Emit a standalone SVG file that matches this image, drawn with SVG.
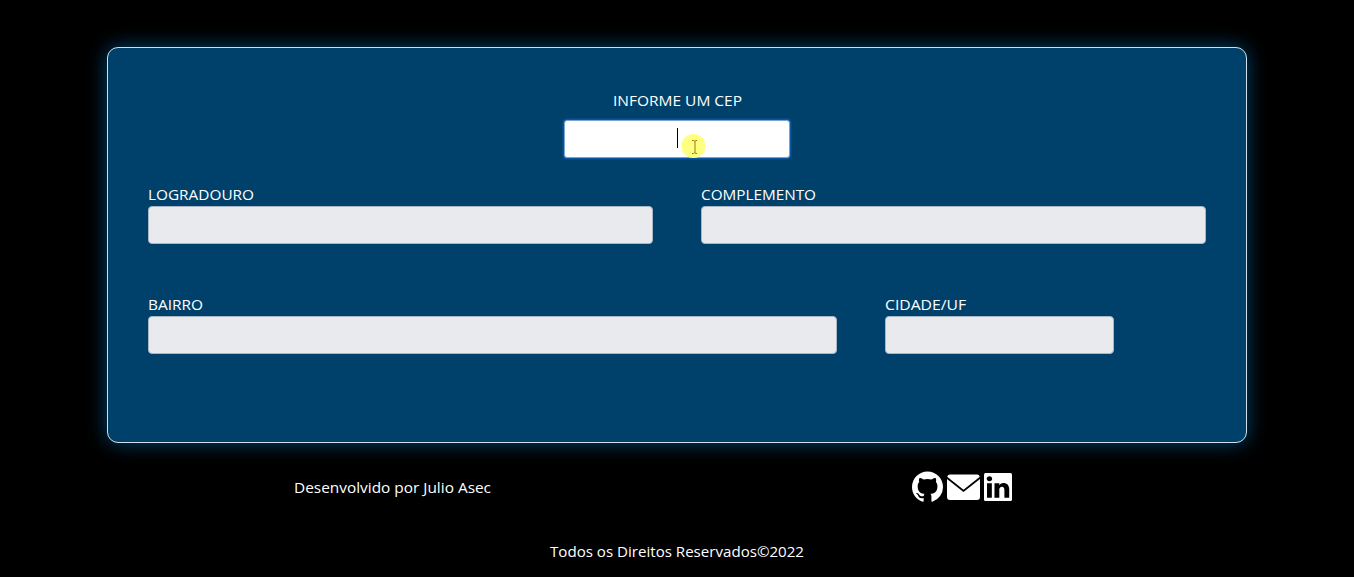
<svg xmlns="http://www.w3.org/2000/svg" width="1354" height="577" viewBox="0 0 1354 577">
  <style>
    text { font-family: "Open Sans", "Noto Sans", "Liberation Sans", sans-serif; fill: #fff; font-size: 15.300px; }
    .field { fill: #e9eaee; stroke: #a9b7c6; stroke-width: 1; }
    .icon { fill: #fff; }
  </style>
  <defs>
    <filter id="glow" x="-10%" y="-20%" width="120%" height="140%">
      <feGaussianBlur stdDeviation="10"/>
    </filter>
  </defs>
  <rect width="1354" height="577" fill="#000"/>
  <g id="panel">
    <rect x="107" y="47" width="1140" height="396" rx="11" fill="#0a6fb5" filter="url(#glow)" opacity="0.62"/>
    <rect x="107.5" y="47.5" width="1139" height="395" rx="10.5" fill="#00416b" stroke="#cfe0ea" stroke-width="1"/>
  </g>
  <g id="cep">
    <text x="613" y="105.500" textLength="129" lengthAdjust="spacingAndGlyphs">INFORME UM CEP</text>
    <rect x="562.500" y="118.500" width="229" height="41" rx="4.500" fill="#0a55a0"/>
    <rect x="564.500" y="120.500" width="225" height="37" rx="2.500" fill="#fff" stroke="#7aa3cf" stroke-width="1"/>
    <rect x="677" y="128" width="1" height="20" fill="#000"/>
    <circle cx="693.500" cy="146" r="12" fill="#ffff80"/>
    <path d="M692 140.500h1.500l1 .7 1-.7h1.500M695 141v12M692 153.500h1.500l1-.7 1 .7h1.500" fill="none" stroke="#a07810" stroke-width="1"/>
  </g>
  <g id="logradouro">
    <text x="148" y="199.500" textLength="106" lengthAdjust="spacingAndGlyphs">LOGRADOURO</text>
    <rect class="field" x="148.500" y="206.500" width="504" height="37" rx="3.500"/>
  </g>
  <g id="complemento">
    <text x="701" y="199.500" textLength="115" lengthAdjust="spacingAndGlyphs">COMPLEMENTO</text>
    <rect class="field" x="701.500" y="206.500" width="504" height="37" rx="3.500"/>
  </g>
  <g id="bairro">
    <text x="148" y="309.500" textLength="55" lengthAdjust="spacingAndGlyphs">BAIRRO</text>
    <rect class="field" x="148.500" y="316.500" width="688" height="37" rx="3.500"/>
  </g>
  <g id="cidade">
    <text x="885" y="309.500" textLength="81" lengthAdjust="spacingAndGlyphs">CIDADE/UF</text>
    <rect class="field" x="885.500" y="316.500" width="228" height="37" rx="3.500"/>
  </g>
  <g id="footer-credit">
    <text x="294" y="493" textLength="197" lengthAdjust="spacingAndGlyphs">Desenvolvido por Julio Asec</text>
  </g>
  <g id="icon-github">
    <path class="icon" transform="translate(912 471.500) scale(1.94)" d="M8 0C3.58 0 0 3.58 0 8c0 3.54 2.29 6.53 5.47 7.59.4.07.55-.17.55-.38 0-.19-.01-.82-.01-1.49-2.01.37-2.53-.49-2.69-.94-.09-.23-.48-.94-.82-1.13-.28-.15-.68-.52-.01-.53.63-.01 1.08.58 1.23.82.72 1.21 1.87.87 2.33.66.07-.52.28-.87.51-1.07-1.78-.2-3.64-.89-3.64-3.95 0-.87.31-1.59.82-2.15-.08-.2-.36-1.02.08-2.12 0 0 .67-.21 2.2.82.64-.18 1.32-.27 2-.27.68 0 1.36.09 2 .27 1.53-1.04 2.2-.82 2.2-.82.44 1.1.16 1.92.08 2.12.51.56.82 1.27.82 2.15 0 3.07-1.87 3.75-3.65 3.95.29.25.54.73.54 1.48 0 1.07-.01 1.93-.01 2.2 0 .21.15.46.55.38A8.013 8.013 0 0 0 16 8c0-4.42-3.58-8-8-8z"/>
  </g>
  <g id="icon-mail">
    <path class="icon" d="M950 474.500h27a3 3 0 0 1 2.800 2.200l-16.300 13-16.300-13a3 3 0 0 1 2.800-2.200z"/>
    <path class="icon" d="M947 479v18a3 3 0 0 0 3 3h27a3 3 0 0 0 3-3v-18l-16.500 13z"/>
  </g>
  <g id="icon-linkedin">
    <rect class="icon" x="984" y="473" width="28" height="28" rx="1.500"/>
    <g transform="translate(998 487) scale(1.150) translate(-998 -487)">
      <path fill="#000" transform="translate(984 473) scale(1.75)" d="M4.943 13.394V6.169H2.542v7.225h2.401zm-1.2-8.212c.837 0 1.358-.554 1.358-1.248-.015-.709-.52-1.248-1.342-1.248-.822 0-1.359.54-1.359 1.248 0 .694.521 1.248 1.327 1.248h.016zm4.908 8.212V9.359c0-.216.016-.432.08-.586.173-.431.568-.878 1.232-.878.869 0 1.216.662 1.216 1.634v3.865h2.401V9.25c0-2.22-1.184-3.252-2.764-3.252-1.274 0-1.845.7-2.165 1.193v.025h-.016a5.54 5.54 0 0 1 .016-.025V6.169h-2.4c.03.678 0 7.225 0 7.225h2.4z"/>
    </g>
  </g>
  <g id="footer-rights">
    <text x="550" y="557" textLength="254" lengthAdjust="spacingAndGlyphs">Todos os Direitos Reservados©2022</text>
  </g>
</svg>
